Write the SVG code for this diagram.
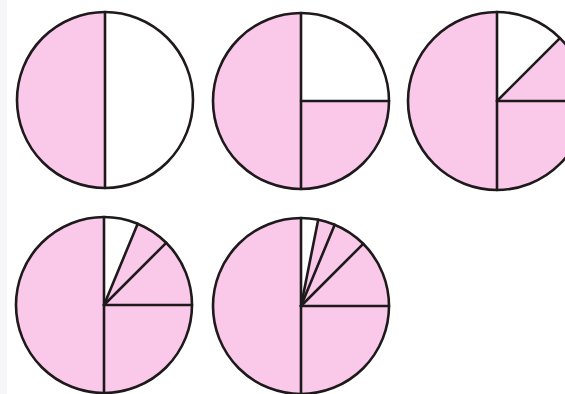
<svg xmlns="http://www.w3.org/2000/svg" width="565" height="394" viewBox="0 0 565 394">
<style>
.pink{fill:#FAC8E9;stroke:none}
.ln{stroke:#1e1a1c;stroke-width:2.6;fill:none;stroke-linecap:round}
</style>
<rect width="565" height="394" fill="#ffffff"/>
<rect width="7" height="394" fill="#f6f6f8"/>
<g id="circle-half">
<path class="pink" d="M105,12 A88,88 0 0 0 105,188 Z"/>
<line class="ln" x1="105" y1="12" x2="105" y2="188"/>
<circle class="ln" cx="105" cy="100" r="88"/>
</g>
<g id="circle-quarter">
<path class="pink" d="M301,101 L301,13 A88,88 0 1 0 389,101 Z"/>
<line class="ln" x1="301" y1="13" x2="301" y2="189"/>
<line class="ln" x1="301" y1="101" x2="389" y2="101"/>
<circle class="ln" cx="301" cy="101" r="88"/>
</g>
<g id="circle-eighth">
<path class="pink" d="M497,101 L497,12 A89,89 0 1 0 559.9,38.1 Z"/>
<line class="ln" x1="497" y1="12" x2="497" y2="190"/>
<line class="ln" x1="497" y1="101" x2="586" y2="101"/>
<line class="ln" x1="497" y1="101" x2="559.9" y2="38.1"/>
<circle class="ln" cx="497" cy="101" r="89"/>
</g>
<g id="circle-sixteenth">
<path class="pink" d="M104,305 L104,217 A88,88 0 1 0 137.7,223.7 Z"/>
<line class="ln" x1="104" y1="217" x2="104" y2="393"/>
<line class="ln" x1="104" y1="305" x2="192" y2="305"/>
<line class="ln" x1="104" y1="305" x2="166.2" y2="242.8"/>
<line class="ln" x1="104" y1="305" x2="137.7" y2="223.7"/>
<circle class="ln" cx="104" cy="305" r="88"/>
</g>
<g id="circle-thirtysecond">
<path class="pink" d="M301,306 L301,218 A88,88 0 1 0 318.2,219.7 Z"/>
<line class="ln" x1="301" y1="218" x2="301" y2="394"/>
<line class="ln" x1="301" y1="306" x2="389" y2="306"/>
<line class="ln" x1="301" y1="306" x2="363.2" y2="243.8"/>
<line class="ln" x1="301" y1="306" x2="334.7" y2="224.7"/>
<line class="ln" x1="301" y1="306" x2="318.2" y2="219.7"/>
<circle class="ln" cx="301" cy="306" r="88"/>
</g>
</svg>
